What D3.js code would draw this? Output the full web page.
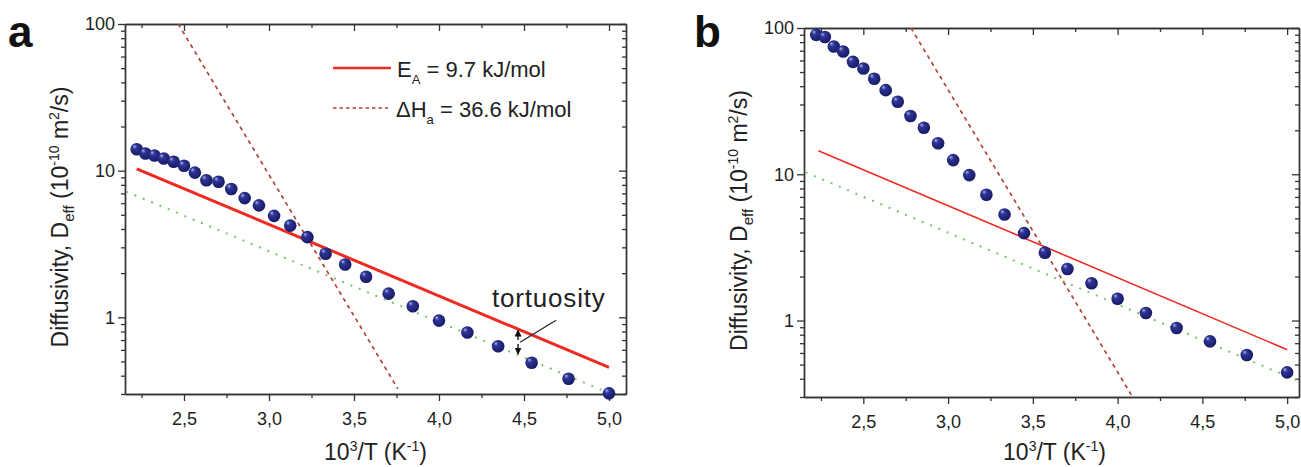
<!DOCTYPE html>
<html>
<head>
<meta charset="utf-8">
<script src="https://cdn.jsdelivr.net/npm/d3@7"></script>
<style>
  html, body { margin: 0; padding: 0; background: #fff; }
  svg { display: block; font-family: "Liberation Sans", Arial, Helvetica, sans-serif; }
</style>
</head>
<body>
<svg id="chart" width="1301" height="467"></svg>
<script>
// ---------------- data ----------------
// inverse temperature 10^3/T (K^-1)
const invT = [2.222, 2.273, 2.326, 2.381, 2.439, 2.5, 2.564, 2.632, 2.703, 2.778, 2.857, 2.941, 3.030,
              3.125, 3.226, 3.333, 3.448, 3.571, 3.704, 3.846, 4.0, 4.167, 4.348, 4.545, 4.762, 5.0];
// effective diffusivity, panel a and panel b (10^-10 m^2/s)
const diffA = [14.0, 13.1, 12.7, 12.1, 11.5, 10.8, 9.7, 8.6, 8.4, 7.5, 6.5, 5.8, 4.92,
               4.22, 3.52, 2.71, 2.29, 1.89, 1.45, 1.19, 0.95, 0.787, 0.635, 0.49, 0.381, 0.303];
const diffB = [89.8, 86.7, 74.7, 69.1, 58.7, 52.9, 45.0, 37.6, 31.3, 25.0, 20.8, 16.3, 12.5,
               9.87, 7.24, 5.31, 3.96, 2.91, 2.25, 1.80, 1.41, 1.125, 0.889, 0.72, 0.581, 0.442];

// fitted lines (end points)
const eaLineAX = [2.222, 5.0],  eaLineAY = [10.3, 0.455];   // E_A = 9.7 kJ/mol
const dhLineAX = [2.466, 3.758], dhLineAY = [100, 0.326];   // dH_a = 36.6 kJ/mol
const toLineAX = [2.16, 5.0],   toLineAY = [7.2, 0.305];    // tortuosity-corrected
const eaLineBX = [2.235, 5.0],  eaLineBY = [14.5, 0.632];
const dhLineBX = [2.781, 4.086], dhLineBY = [100, 0.303];
const toLineBX = [2.16, 5.07],  toLineBY = [10.3, 0.385];

// ticks
const xTickValues = [2.5, 3.0, 3.5, 4.0, 4.5, 5.0];
const xTickLabels = ["2,5", "3,0", "3,5", "4,0", "4,5", "5,0"];
const xMinorValues = [2.25, 2.75, 3.25, 3.75, 4.25, 4.75];
const yTickValues = [1, 10, 100];
const yTickLabels = ["1", "10", "100"];
const yMinorValues = [0.3, 0.4, 0.5, 0.6, 0.7, 0.8, 0.9, 2, 3, 4, 5, 6, 7, 8, 9, 20, 30, 40, 50, 60, 70, 80, 90];

const legendLabels = [["E", "A", " = 9.7 kJ/mol"], ["\u0394H", "a", " = 36.6 kJ/mol"]];

// ---------------- drawing ----------------
const svg = d3.select("#chart");
const AXIS = "#333";
const RED = "#ee2b22";
const BROWN = "#b0443a";
const GREEN = "#79c270";

const defs = svg.append("defs");
const grad = defs.append("radialGradient").attr("id", "ball")
  .attr("cx", "45%").attr("cy", "45%").attr("r", "60%").attr("fx", "30%").attr("fy", "25%");
grad.append("stop").attr("offset", "0%").attr("stop-color", "#aeb3ea");
grad.append("stop").attr("offset", "30%").attr("stop-color", "#2f3596");
grad.append("stop").attr("offset", "100%").attr("stop-color", "#141860");
defs.append("marker").attr("id", "ah").attr("viewBox", "0 0 10 10")
  .attr("refX", 9).attr("refY", 5).attr("markerWidth", 7).attr("markerHeight", 7)
  .attr("orient", "auto-start-reverse").attr("markerUnits", "userSpaceOnUse")
  .append("path").attr("d", "M0,0 L10,5 L0,10 Z").attr("fill", "#111");

function drawPanel(p) {
  const x = d3.scaleLinear().domain(p.xDomain).range([p.left, p.right]);
  const y = d3.scaleLog().domain([0.3, 100]).range([p.bottom, p.top]);
  const g = svg.append("g");

  const clipId = "clip" + p.id;
  defs.append("clipPath").attr("id", clipId).append("rect")
    .attr("x", p.left).attr("y", p.top).attr("width", p.right - p.left).attr("height", p.bottom - p.top);

  function xAxisGroup(yPos, labels) {
    const maj = g.append("g").attr("transform", `translate(0,${yPos})`)
      .call(d3.axisBottom(x).tickValues(xTickValues).tickSize(7).tickSizeOuter(0)
        .tickFormat((d, i) => labels ? xTickLabels[i] : ""));
    const mi = g.append("g").attr("transform", `translate(0,${yPos})`)
      .call(d3.axisBottom(x).tickValues(xMinorValues).tickSize(4).tickSizeOuter(0).tickFormat(""));
    [maj, mi].forEach(s => {
      s.select(".domain").attr("stroke", AXIS).attr("stroke-width", 1.4);
      s.selectAll(".tick line").attr("stroke", AXIS).attr("stroke-width", 1.3);
    });
    maj.selectAll("text").attr("font-size", 18).attr("fill", "#222").attr("dy", "1.15em")
      .attr("font-family", "Liberation Sans, Arial, sans-serif");
  }
  function yAxisGroup(xPos, labels) {
    const maj = g.append("g").attr("transform", `translate(${xPos},0)`)
      .call(d3.axisLeft(y).tickValues(yTickValues).tickSize(7).tickSizeOuter(0)
        .tickFormat((d, i) => labels ? yTickLabels[i] : ""));
    const mi = g.append("g").attr("transform", `translate(${xPos},0)`)
      .call(d3.axisLeft(y).tickValues(yMinorValues).tickSize(4).tickSizeOuter(0).tickFormat(""));
    [maj, mi].forEach(s => {
      s.select(".domain").attr("stroke", AXIS).attr("stroke-width", 1.4);
      s.selectAll(".tick line").attr("stroke", AXIS).attr("stroke-width", 1.3);
    });
    maj.selectAll("text").attr("font-size", 18).attr("fill", "#222").attr("x", -10)
      .attr("font-family", "Liberation Sans, Arial, sans-serif");
  }
  xAxisGroup(p.bottom, true);
  xAxisGroup(p.top, false);
  yAxisGroup(p.left, true);
  yAxisGroup(p.right, false);

  const plot = g.append("g").attr("clip-path", `url(#${clipId})`);
  const lineGen = d3.line().x(d => x(d[0])).y(d => y(d[1]));
  const pairs = (xs, ys) => xs.map((v, i) => [v, ys[i]]);

  plot.append("path").attr("d", lineGen(pairs(p.toX, p.toY)))
    .attr("fill", "none").attr("stroke", GREEN).attr("stroke-width", 2).attr("stroke-dasharray", "2,7");
  plot.append("path").attr("d", lineGen(pairs(p.dhX, p.dhY)))
    .attr("fill", "none").attr("stroke", BROWN).attr("stroke-width", 1.7).attr("stroke-dasharray", "4,4");
  plot.append("path").attr("d", lineGen(pairs(p.eaX, p.eaY)))
    .attr("fill", "none").attr("stroke", RED).attr("stroke-width", p.eaWidth);

  g.append("g").selectAll("circle").data(pairs(invT, p.vals)).join("circle")
    .attr("cx", d => x(d[0])).attr("cy", d => y(d[1])).attr("r", 6.3)
    .attr("fill", "url(#ball)");

  svg.append("text").attr("x", p.letterX).attr("y", 47).attr("font-size", 44).attr("font-weight", "bold")
    .attr("fill", "#111").text(p.letter);

  const yl = svg.append("text").attr("transform", `translate(${p.yLabelX},${(p.top + p.bottom) / 2 + 8}) rotate(-90)`)
    .attr("text-anchor", "middle").attr("font-size", 23).attr("fill", "#222");
  yl.append("tspan").text("Diffusivity, D");
  yl.append("tspan").attr("font-size", 15).attr("dy", 6).text("eff");
  yl.append("tspan").attr("dy", -6).text(" (10");
  yl.append("tspan").attr("font-size", 14).attr("dy", -9).text("-10");
  yl.append("tspan").attr("dy", 9).text(" m");
  yl.append("tspan").attr("font-size", 14).attr("dy", -9).text("2");
  yl.append("tspan").attr("dy", 9).text("/s)");

  const xl = svg.append("text").attr("x", (p.left + p.right) / 2 + p.xLabelShift).attr("y", 460)
    .attr("text-anchor", "middle").attr("font-size", 23).attr("fill", "#222");
  xl.append("tspan").text("10");
  xl.append("tspan").attr("font-size", 14).attr("dy", -9).text("3");
  xl.append("tspan").attr("dy", 9).text("/T (K");
  xl.append("tspan").attr("font-size", 14).attr("dy", -9).text("-1");
  xl.append("tspan").attr("dy", 9).text(")");

  return { x, y, g };
}

const A = drawPanel({
  id: "a", letter: "a", letterX: 8, left: 125, right: 626, top: 24, bottom: 394,
  xDomain: [2.153, 5.1], vals: diffA,
  eaX: eaLineAX, eaY: eaLineAY, dhX: dhLineAX, dhY: dhLineAY, toX: toLineAX, toY: toLineAY,
  eaWidth: 3, yLabelX: 68, xLabelShift: 0
});
const B = drawPanel({
  id: "b", letter: "b", letterX: 694, left: 804, right: 1299, top: 28, bottom: 397,
  xDomain: [2.15, 5.07], vals: diffB,
  eaX: eaLineBX, eaY: eaLineBY, dhX: dhLineBX, dhY: dhLineBY, toX: toLineBX, toY: toLineBY,
  eaWidth: 1.6, yLabelX: 747, xLabelShift: 3
});

// legend (panel a)
const lg = svg.append("g");
const legendStyles = [{ stroke: RED, w: 2.5, dash: null, x2: 391 }, { stroke: BROWN, w: 1.5, dash: "3.5,3", x2: 388 }];
legendLabels.forEach((lab, i) => {
  const yy = 68 + i * 40;
  const st = legendStyles[i];
  lg.append("line").attr("x1", 333).attr("x2", st.x2).attr("y1", yy).attr("y2", yy)
    .attr("stroke", st.stroke).attr("stroke-width", st.w).attr("stroke-dasharray", st.dash);
  const t = lg.append("text").attr("x", 397 - i).attr("y", yy + 9).attr("font-size", 22).attr("fill", "#222");
  t.append("tspan").text(lab[0]);
  t.append("tspan").attr("font-size", 13).attr("dy", 7).text(lab[1]);
  t.append("tspan").attr("dy", -7).text(lab[2]);
});

// tortuosity annotation (panel a)
function logInterp(xs, ys, v) {
  const f = (v - xs[0]) / (xs[1] - xs[0]);
  return Math.pow(10, Math.log10(ys[0]) + f * (Math.log10(ys[1]) - Math.log10(ys[0])));
}
const tortXv = 4.465;
const ax = A.x(tortXv);
const yTop = A.y(logInterp(eaLineAX, eaLineAY, tortXv));
const yBot = A.y(logInterp(toLineAX, toLineAY, tortXv));
const mid = (yTop + yBot) / 2;
svg.append("line").attr("x1", ax).attr("x2", ax).attr("y1", mid - 2).attr("y2", yTop + 1)
  .attr("stroke", "#111").attr("stroke-width", 1.4).attr("marker-end", "url(#ah)");
svg.append("line").attr("x1", ax).attr("x2", ax).attr("y1", mid + 2).attr("y2", yBot - 1)
  .attr("stroke", "#111").attr("stroke-width", 1.4).attr("marker-end", "url(#ah)");
svg.append("line").attr("x1", ax + 38).attr("y1", yTop - 9).attr("x2", ax + 2).attr("y2", yTop + 13)
  .attr("stroke", "#222").attr("stroke-width", 1.2);
svg.append("text").attr("x", ax - 26).attr("y", yTop - 22).attr("font-size", 26).attr("letter-spacing", 0.8)
  .attr("fill", "#222").text("tortuosity");
</script>
</body>
</html>
